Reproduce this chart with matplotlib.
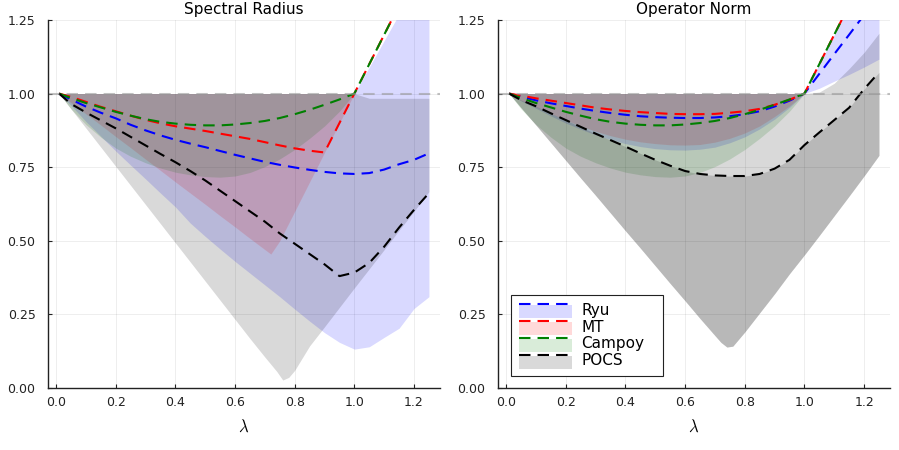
import matplotlib
matplotlib.use("Agg")
import matplotlib.pyplot as plt
from matplotlib.patches import Rectangle
from matplotlib.lines import Line2D
from matplotlib.legend_handler import HandlerBase

plt.rcParams['mathtext.fontset'] = 'cm'

# step size lambda
lam = [0.01, 0.05, 0.10, 0.15, 0.20, 0.25, 0.30, 0.35, 0.40, 0.45, 0.50, 0.55, 0.60,
       0.65, 0.70, 0.75, 0.80, 0.85, 0.90, 0.95, 1.00, 1.05, 1.10, 1.15, 1.20, 1.25]
lam_mt_sr = [0.01, 0.05, 0.10, 0.15, 0.20, 0.25, 0.30, 0.35, 0.40, 0.45, 0.50, 0.55, 0.60,
             0.65, 0.70, 0.72, 0.75, 0.80, 0.85, 0.90, 0.95, 1.00, 1.05, 1.10, 1.15, 1.20, 1.25]
lam_pocs_sr = [0.01, 0.05, 0.10, 0.15, 0.20, 0.25, 0.30, 0.35, 0.40, 0.45, 0.50, 0.55, 0.60,
               0.65, 0.70, 0.74, 0.76, 0.78, 0.80, 0.85, 0.90, 0.95, 1.00, 1.05, 1.10, 1.15,
               1.20, 1.25]
lam_pocs_on = [0.01, 0.05, 0.10, 0.15, 0.20, 0.25, 0.30, 0.35, 0.40, 0.45, 0.50, 0.55, 0.60,
               0.65, 0.70, 0.72, 0.74, 0.76, 0.80, 0.85, 0.90, 0.95, 1.00, 1.05, 1.10, 1.15,
               1.20, 1.25]

# ---------------- spectral radius ----------------
ryu_sr = [1.0, 0.98, 0.956, 0.935, 0.916, 0.894, 0.875, 0.858, 0.843, 0.83, 0.818, 0.805, 0.792,
          0.78, 0.768, 0.758, 0.749, 0.741, 0.734, 0.729, 0.727, 0.73, 0.742, 0.76, 0.775, 0.797]
ryu_sr_lo = [1.0, 0.96, 0.905, 0.855, 0.805, 0.757, 0.71, 0.662, 0.615, 0.56, 0.515, 0.472, 0.43,
             0.39, 0.35, 0.31, 0.268, 0.227, 0.188, 0.155, 0.132, 0.14, 0.172, 0.203, 0.27, 0.31]
ryu_sr_hi = [1.0] * 21 + [1.09, 1.18, 1.27, 1.36, 1.45]

mt_sr = [1.0, 0.989, 0.972, 0.955, 0.94, 0.925, 0.911, 0.899, 0.889, 0.881, 0.873, 0.864, 0.855,
         0.846, 0.835, 0.824, 0.814, 0.806, 0.80, 0.90, 1.0, 1.1, 1.2, 1.3, 1.4, 1.5]
mt_sr_lo = [1.0, 0.969, 0.931, 0.893, 0.854, 0.816, 0.777, 0.739, 0.70, 0.662, 0.624, 0.585, 0.547,
            0.508, 0.47, 0.455, 0.5, 0.6, 0.7, 0.8, 0.9, 1.0, 1.1, 1.2, 1.3, 1.4, 1.5]
mt_sr_hi = [1.0] * 22 + [1.1, 1.2, 1.3, 1.4, 1.5]

campoy = [1.0, 0.985, 0.968, 0.953, 0.938, 0.925, 0.913, 0.904, 0.898, 0.894, 0.892, 0.892, 0.895,
          0.9, 0.907, 0.917, 0.93, 0.945, 0.962, 0.98, 1.0, 1.1, 1.2, 1.3, 1.4, 1.5]
campoy_lo = [1.0, 0.948, 0.895, 0.852, 0.815, 0.787, 0.765, 0.747, 0.733, 0.724, 0.718, 0.716, 0.72,
             0.732, 0.752, 0.778, 0.81, 0.848, 0.89, 0.94, 1.0, 1.1, 1.2, 1.3, 1.4, 1.5]
campoy_hi = [1.0] * 21 + [1.1, 1.2, 1.3, 1.4, 1.5]

pocs_sr = [1.0, 0.965, 0.936, 0.909, 0.882, 0.853, 0.824, 0.795, 0.767, 0.737, 0.705, 0.67, 0.635,
           0.6, 0.565, 0.525, 0.49, 0.455, 0.42, 0.38, 0.392, 0.425, 0.48, 0.545, 0.605, 0.662]
pocs_sr_lo = [1.0, 0.948, 0.883, 0.818, 0.753, 0.688, 0.623, 0.558, 0.493, 0.428, 0.363, 0.298, 0.233,
              0.168, 0.105, 0.056, 0.027, 0.036, 0.06, 0.143, 0.208, 0.274, 0.34, 0.405, 0.47,
              0.536, 0.60, 0.667]
pocs_sr_hi = [1.0] * 23 + [0.984, 0.984, 0.984, 0.984, 0.984]

# ---------------- operator norm ----------------
ryu_on = [1.0, 0.99, 0.977, 0.967, 0.958, 0.949, 0.941, 0.934, 0.928, 0.923, 0.92, 0.918, 0.917,
          0.917, 0.919, 0.923, 0.93, 0.94, 0.956, 0.976, 1.0, 1.067, 1.134, 1.20, 1.267, 1.335]
ryu_on_lo = [1.0, 0.975, 0.95, 0.924, 0.90, 0.879, 0.86, 0.844, 0.83, 0.82, 0.813, 0.809, 0.808,
             0.811, 0.818, 0.833, 0.853, 0.88, 0.913, 0.953, 1.0, 1.018, 1.042, 1.065, 1.09, 1.117]
ryu_on_hi = [1.0] * 21 + [1.1, 1.2, 1.3, 1.4, 1.5]

mt_on = [1.0, 0.993, 0.984, 0.976, 0.968, 0.96, 0.952, 0.946, 0.941, 0.937, 0.934, 0.931, 0.93,
         0.93, 0.931, 0.935, 0.94, 0.948, 0.962, 0.979, 1.0, 1.1, 1.2, 1.3, 1.4, 1.5]
mt_on_lo = [1.0, 0.977, 0.955, 0.932, 0.91, 0.89, 0.872, 0.857, 0.845, 0.836, 0.83, 0.826, 0.825,
            0.827, 0.835, 0.848, 0.866, 0.89, 0.922, 0.958, 1.0, 1.1, 1.2, 1.3, 1.4, 1.5]
mt_on_hi = [1.0] * 21 + [1.1, 1.2, 1.3, 1.4, 1.5]

pocs_on = [1.0, 0.978, 0.957, 0.933, 0.91, 0.887, 0.864, 0.842, 0.82, 0.797, 0.775, 0.755, 0.737,
           0.727, 0.722, 0.72, 0.72, 0.727, 0.745, 0.775, 0.825, 0.868, 0.91, 0.952, 1.015, 1.072]
pocs_on_mid = [1.0, 0.978, 0.957, 0.933, 0.91, 0.887, 0.864, 0.842, 0.82, 0.797, 0.775, 0.755, 0.737,
               0.727, 0.722, 0.721, 0.72, 0.72, 0.72, 0.727, 0.745, 0.775, 0.825, 0.868, 0.91,
               0.952, 1.015, 1.072]
pocs_on_lo = [1.0, 0.952, 0.893, 0.833, 0.773, 0.713, 0.654, 0.594, 0.534, 0.475, 0.415, 0.355, 0.296,
              0.236, 0.178, 0.155, 0.139, 0.142, 0.19, 0.255, 0.32, 0.388, 0.452, 0.518, 0.585,
              0.652, 0.72, 0.79]
pocs_on_hi = [1.0] * 23 + [1.005, 1.035, 1.085, 1.14, 1.205]

names = ['Ryu', 'MT', 'Campoy', 'POCS']
colors = ['#0000ff', '#ff0000', '#008000', '#000000']
DASH = (5.5, 3.4)


class RibbonHandler(HandlerBase):
    # dashed line sitting on top of a light ribbon patch, like the original legend
    def create_artists(self, legend, orig_handle, xdescent, ydescent, width, height, fontsize, trans):
        c = orig_handle.get_color()
        rect = Rectangle((-xdescent, -ydescent - 0.25 * height), width, 1.1 * height,
                         facecolor=c, alpha=0.15, edgecolor='none', transform=trans)
        ln = Line2D([-xdescent, -xdescent + width], [-ydescent + 0.95 * height] * 2,
                    color=c, lw=1.5, dashes=DASH, transform=trans)
        return [rect, ln]


def style(ax, title):
    ax.set_xlim(-0.027, 1.287)
    ax.set_ylim(0, 1.25)
    ax.set_xticks([0.0, 0.2, 0.4, 0.6, 0.8, 1.0, 1.2])
    ax.set_xticklabels(['0.0', '0.2', '0.4', '0.6', '0.8', '1.0', '1.2'])
    ax.set_yticks([0.0, 0.25, 0.5, 0.75, 1.0, 1.25])
    ax.set_yticklabels(['0.00', '0.25', '0.50', '0.75', '1.00', '1.25'])
    ax.grid(True, color='black', alpha=0.08, lw=0.6)
    ax.set_axisbelow(True)
    for s in ['top', 'right']:
        ax.spines[s].set_visible(False)
    for s in ['left', 'bottom']:
        ax.spines[s].set_color('#222222')
        ax.spines[s].set_linewidth(1.0)
    ax.tick_params(direction='in', length=3, width=0.8, labelsize=9, pad=6, colors='#222222')
    ax.tick_params(axis='y', pad=9)
    ax.set_title(title, fontsize=11, pad=4)
    ax.set_xlabel(r'$\lambda$', fontsize=12, labelpad=6)


def ribbon(ax, x, lo, hi, line, color):
    ax.fill_between(x, lo, hi, color=color, alpha=0.15, lw=0)
    ax.plot(lam, line, color=color, lw=1.5, dashes=DASH)


fig = plt.figure(figsize=(8.99, 4.5), dpi=100)
ax1 = fig.add_axes([0.0534, 0.1378, 0.436, 0.8178])
ax2 = fig.add_axes([0.554, 0.1378, 0.436, 0.8178])

# spectral radius
ribbon(ax1, lam, ryu_sr_lo, ryu_sr_hi, ryu_sr, colors[0])
ribbon(ax1, lam_mt_sr, mt_sr_lo, mt_sr_hi, mt_sr, colors[1])
ribbon(ax1, lam, campoy_lo, campoy_hi, campoy, colors[2])
ribbon(ax1, lam_pocs_sr, pocs_sr_lo, pocs_sr_hi, pocs_sr, colors[3])
ax1.axhline(1.0, color='#999999', alpha=0.6, lw=1.5, dashes=DASH)
style(ax1, 'Spectral Radius')

# operator norm
ribbon(ax2, lam, ryu_on_lo, ryu_on_hi, ryu_on, colors[0])
ribbon(ax2, lam, mt_on_lo, mt_on_hi, mt_on, colors[1])
ribbon(ax2, lam, campoy_lo, campoy_hi, campoy, colors[2])
ax2.fill_between(lam_pocs_on, pocs_on_lo, pocs_on_mid, color=colors[3], alpha=0.15, lw=0)
ribbon(ax2, lam_pocs_on, pocs_on_lo, pocs_on_hi, pocs_on, colors[3])
ax2.axhline(1.0, color='#999999', alpha=0.6, lw=1.5, dashes=DASH)
style(ax2, 'Operator Norm')

proxies = [Line2D([], [], color=c) for c in colors]
leg = ax2.legend(proxies, names, handler_map={Line2D: RibbonHandler()},
                 loc='lower left', bbox_to_anchor=(0.033, 0.033, 0.388, 0.2), mode='expand',
                 borderaxespad=0, fontsize=11, handlelength=3.5, handleheight=0.8,
                 labelspacing=0.12, handletextpad=0.6, borderpad=0.5, fancybox=False,
                 framealpha=1)
leg.get_frame().set_edgecolor('#222222')
leg.get_frame().set_linewidth(0.8)

fig.savefig('out.png', dpi=100)
